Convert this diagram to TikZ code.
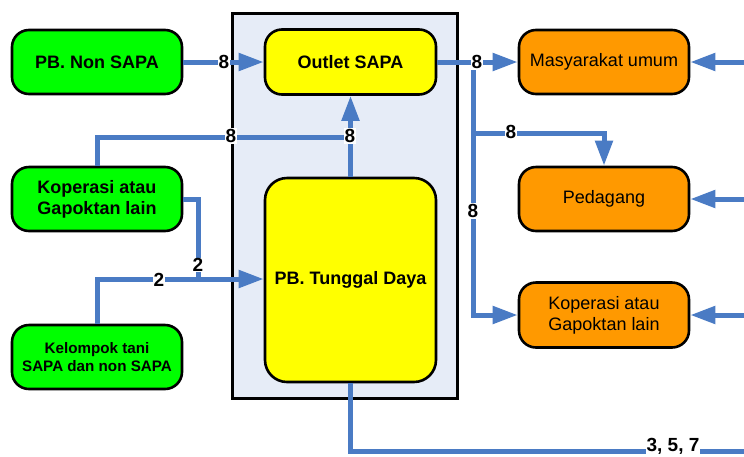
\documentclass[tikz,border=0pt]{standalone}
\usepackage{fontspec}
\setmainfont{Liberation Sans}
\usetikzlibrary{arrows.meta}
\definecolor{flowblue}{HTML}{4A7BC4}
\definecolor{boxgreen}{HTML}{00FF00}
\definecolor{boxyellow}{HTML}{FFFF00}
\definecolor{boxorange}{HTML}{FF9900}
\definecolor{panelfill}{HTML}{E6ECF7}
\tikzset{
  box/.style={draw=black, line width=2.6pt, rounded corners=17pt, minimum width=170pt, minimum height=64pt, align=center, inner sep=2pt},
  gbox/.style={box, fill=boxgreen, font=\fontsize{18}{21}\selectfont\bfseries},
  ybox/.style={box, fill=boxyellow, font=\fontsize{18}{21}\selectfont\bfseries},
  obox/.style={box, fill=boxorange, font=\fontsize{18}{21}\selectfont},
  flow/.style={draw=flowblue, line width=5pt},
  flowarr/.style={flow, -{Triangle[length=25pt,width=17pt]}},
  lab/.style={fill=white, inner sep=0.8pt, font=\fontsize{19}{20}\selectfont\bfseries},
}
\begin{document}
\begin{tikzpicture}[x=1pt, y=-1pt]
\useasboundingbox (0,0) rectangle (744,456);
% container
\node[draw=black, line width=3pt, fill=panelfill, minimum width=225pt, minimum height=385pt, inner sep=0pt] (panel) at (344.5,205.5) {};
% nodes
\node[gbox] (nonsapa) at (97,62) {PB. Non SAPA};
\node[gbox] (kopg) at (97,199) {Koperasi atau\\Gapoktan lain};
\node[gbox, font=\fontsize{15.2}{18}\selectfont\bfseries] (kelompok) at (97,357) {Kelompok tani\\SAPA dan non SAPA};
\node[ybox, minimum width=171pt, minimum height=65pt] (outlet) at (350.5,62) {Outlet SAPA};
\node[ybox, minimum width=171pt, minimum height=204pt, rounded corners=22pt] (tunggal) at (350.5,280) {PB. Tunggal Daya};
\node[obox] (masy) at (604,62) {Masyarakat umum};
\node[obox] (pedagang) at (604,199) {Pedagang};
\node[obox, minimum height=65pt] (kopo) at (604,315) {Koperasi atau\\Gapoktan lain};
% free ends
\coordinate (r1) at (744,62);
\coordinate (r2) at (744,199);
\coordinate (r3) at (744,315);
\coordinate (jx) at (473,62);
\coordinate (bot) at (744,451);
% connectors
\draw[flowarr] (nonsapa.east) -- (outlet.west);
\draw[flowarr] (tunggal.north) -- (outlet.south);
\draw[flow] (kopg.north) |- (350,137);
\draw[flow] (kopg.east) -- (198,199) -- (198,279);
\draw[flowarr] (kelompok.north) |- (tunggal.west |- 0,279);
\draw[flowarr] (outlet.east) -- (masy.west);
\draw[flowarr] (jx) |- (kopo.west);
\draw[flowarr] (473,133) -| (pedagang.north);
\draw[flowarr] (r1) -- (masy.east);
\draw[flowarr] (r2) -- (pedagang.east);
\draw[flowarr] (r3) -- (kopo.east);
\draw[flow] (tunggal.south) |- (bot);
% labels
\node[lab] (l1) at (224,62) {8};
\node[lab] (l2) at (231,136) {8};
\node[lab] (l3) at (350,136) {8};
\node[lab] (l4) at (198,265) {2};
\node[lab] (l5) at (159,280) {2};
\node[lab] (l6) at (477,62) {8};
\node[lab] (l7) at (511,132) {8};
\node[lab] (l8) at (473,211) {8};
\node[lab, inner sep=0.5pt] (l9) at (673,446) {3, 5, 7};
\end{tikzpicture}
\end{document}
